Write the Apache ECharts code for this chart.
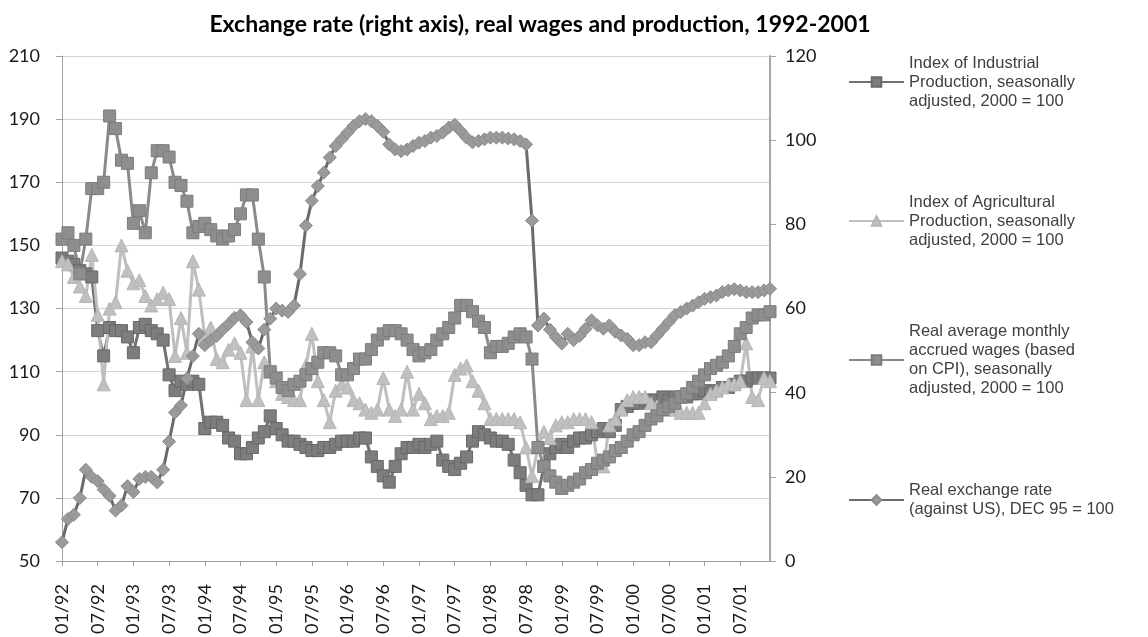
<!DOCTYPE html>
<html>
<head>
<meta charset="utf-8">
<title>Exchange rate, real wages and production</title>
<script src="https://cdn.jsdelivr.net/npm/echarts@6/dist/echarts.min.js"></script>
<style>
  html, body { margin: 0; padding: 0; background: #fff; }
  #chart { width: 1148px; height: 637px; }
</style>
</head>
<body>
<div id="chart"></div>
<script>
// monthly categories 01/92 .. 12/01
var years = ['92', '93', '94', '95', '96', '97', '98', '99', '00', '01'];
var months = ['01', '02', '03', '04', '05', '06', '07', '08', '09', '10', '11', '12'];
var categories = [];
years.forEach(function (y) {
  months.forEach(function (m) {
    categories.push(m + '/' + y);
  });
});

var leftTicks = [50, 210, 20];   // min, max, step
var rightTicks = [0, 120, 20];

// Index of Industrial Production, 2000 = 100
var industrial = [
  146, 145, 144, 142, 141, 140, 123, 115, 124, 123, 123, 121,
  116, 124, 125, 123, 122, 120, 109, 104, 107, 106, 107, 106,
  92, 94, 94, 93, 89, 88, 84, 84, 86, 89, 91, 96,
  92, 90, 88, 88, 87, 86, 85, 85, 86, 86, 87, 88,
  88, 88, 89, 89, 83, 80, 77, 75, 80, 84, 86, 86,
  87, 86, 87, 88, 82, 80, 79, 81, 83, 88, 91, 90,
  89, 88, 88, 87, 82, 78, 74, 71, 71, 80, 84, 86,
  87, 86, 88, 89, 89, 90, 91, 92, 91, 93, 98, 99,
  100, 100, 101, 101, 101, 102, 101, 102, 102, 102, 103, 103,
  104, 103, 104, 105, 105, 106, 107, 107, 108, 108, 108, 108
];

// Index of Agricultural Production, 2000 = 100
var agricultural = [
  145, 144, 140, 137, 134, 147, 128, 106, 130, 132, 150, 142,
  138, 139, 134, 131, 133, 135, 133, 115, 127, 116, 145, 136,
  121, 124, 114, 113, 117, 119, 116, 101, 118, 101, 113, 110,
  107, 103, 102, 101, 101, 112, 122, 107, 101, 94, 104, 106,
  105, 101, 100, 98, 97, 98, 108, 98, 96, 98, 110, 98,
  103, 100, 95, 96, 96, 97, 109, 111, 112, 107, 104, 100,
  95, 95, 95, 95, 95, 94, 86, 77, 86, 91, 89, 93,
  94, 94, 95, 95, 95, 94, 81, 80, 93, 95, 98, 101,
  102, 102, 102, 100, 99, 98, 98, 98, 97, 97, 97, 97,
  100, 103, 104, 105, 106, 106, 107, 119, 102, 101, 108, 107
];

// Real average monthly accrued wages (CPI based), 2000 = 100
var wages = [
  152, 154, 150, 141, 152, 168, 168, 170, 191, 187, 177, 176,
  157, 161, 154, 173, 180, 180, 178, 170, 169, 164, 154, 156,
  157, 155, 153, 152, 153, 155, 160, 166, 166, 152, 140, 110,
  108, 105, 104, 106, 107, 109, 111, 113, 116, 116, 115, 109,
  109, 111, 114, 114, 117, 120, 122, 123, 123, 122, 120, 117,
  115, 116, 117, 120, 122, 124, 127, 131, 131, 129, 126, 124,
  116, 118, 118, 119, 121, 122, 121, 114, 86, 80, 77, 75,
  73, 74, 75, 76, 78, 79, 81, 82, 83, 85, 86, 88,
  90, 91, 93, 95, 96, 98, 99, 100, 102, 103, 105, 107,
  109, 111, 112, 113, 115, 118, 122, 124, 127, 128, 128, 129
];

// Real exchange rate against US$, DEC 95 = 100 (right axis)
var exchange = [
  4.5, 10, 11, 15, 21.7, 20, 19, 17, 15.5, 12, 13.2, 17.8,
  16.4, 19.5, 20, 20, 18.7, 21.7, 28.4, 35.3, 37, 43.4, 48.7, 54,
  51.3, 52.5, 53.5, 55, 56.3, 57.8, 58.4, 56.8, 52, 50.5, 55, 57.6,
  60, 59.5, 59.2, 60.7, 68.2, 79.7, 85.6, 89.1, 92.3, 95.9, 98.6, 100.2,
  101.8, 103.4, 104.5, 105, 104.5, 103.4, 102, 99, 97.8, 97.4, 97.8, 98.6,
  99.4, 99.8, 100.6, 101, 101.8, 103, 103.7, 102.2, 100.6, 99.5, 99.8, 100.2,
  100.6, 100.6, 100.6, 100.4, 100.2, 99.8, 99, 80.9, 56, 57.6, 55, 53.2,
  51.7, 54, 52.5, 53.5, 55.2, 57.2, 56, 55.2, 56, 54.5, 53.6, 52.8,
  51.3, 51.3, 52, 52, 53.6, 55.2, 56.8, 58.4, 59.2, 60, 60.7, 61.5,
  62.3, 62.7, 63.1, 63.9, 64.3, 64.6, 64.3, 63.9, 63.9, 63.9, 64.3, 64.7
];

var names = [
  'Index of Industrial\nProduction, seasonally\nadjusted, 2000 = 100',
  'Index of Agricultural\nProduction, seasonally\nadjusted, 2000 = 100',
  'Real average monthly\naccrued wages (based\non CPI), seasonally\nadjusted, 2000 = 100',
  'Real exchange rate\n(against US), DEC 95 = 100'
];

var chart = echarts.init(document.getElementById('chart'), null, { renderer: 'canvas' });

var LH = 19;
// one legend per entry, icon lined up with the first text line
function legendFor(name, iconY) {
  var lines = name.split('\n').length;
  return {
    data: [name],
    orient: 'vertical',
    left: 848,
    top: iconY - (2 * lines - 1) * LH / 2,
    padding: 0,
    itemWidth: 55,
    itemHeight: 12,
    textStyle: {
      fontFamily: 'Liberation Sans',
      fontSize: 16.5,
      lineHeight: LH,
      color: '#404040',
      padding: [(lines - 1) * LH, 0, 0, 0]
    }
  };
}

var labelFont = { fontFamily: 'Lato', fontSize: 18, color: '#1a1a1a' };

var option = {
  animation: false,
  backgroundColor: '#fff',
  title: {
    text: 'Exchange rate (right axis), real wages and production, 1992-2001',
    left: 535,
    top: 8,
    textAlign: 'center',
    textStyle: { fontFamily: 'Lato', fontWeight: 'bold', fontSize: 23, color: '#000' }
  },
  legend: [
    legendFor(names[0], 82),
    legendFor(names[1], 221),
    legendFor(names[2], 360),
    legendFor(names[3], 500)
  ],
  grid: { left: 62, right: 378, top: 56, bottom: 74 },
  xAxis: {
    type: 'category',
    data: categories,
    boundaryGap: false,
    axisLine: { lineStyle: { color: '#a0a0a0', width: 1 } },
    axisTick: { interval: 5, length: 5, lineStyle: { color: '#a0a0a0' } },
    axisLabel: Object.assign({ interval: 5, rotate: 90, margin: 23 }, labelFont)
  },
  yAxis: [
    {
      type: 'value',
      min: leftTicks[0], max: leftTicks[1], interval: leftTicks[2],
      axisLine: { show: true, lineStyle: { color: '#a0a0a0', width: 1 } },
      axisTick: { show: true, length: 6, lineStyle: { color: '#a0a0a0' } },
      axisLabel: Object.assign({ margin: 22 }, labelFont),
      splitLine: { lineStyle: { color: '#d4d4d4', width: 1 } }
    },
    {
      type: 'value',
      min: rightTicks[0], max: rightTicks[1], interval: rightTicks[2],
      axisLine: { show: true, lineStyle: { color: '#a6a6a6', width: 2 } },
      axisTick: { show: true, length: 6, lineStyle: { color: '#a6a6a6' } },
      axisLabel: Object.assign({ margin: 15 }, labelFont),
      splitLine: { show: false }
    }
  ],
  series: [
    {
      name: names[0],
      type: 'line',
      data: industrial,
      symbol: 'rect',
      symbolSize: 12,
      showAllSymbol: true,
      lineStyle: { color: '#727272', width: 3 },
      itemStyle: { color: '#7d7d7d', borderColor: '#686868', borderWidth: 1 }
    },
    {
      name: names[1],
      type: 'line',
      data: agricultural,
      symbol: 'triangle',
      symbolSize: 13,
      showAllSymbol: true,
      lineStyle: { color: '#bfbfbf', width: 3 },
      itemStyle: { color: '#c0c0c0', borderColor: '#b5b5b5', borderWidth: 1 }
    },
    {
      name: names[2],
      type: 'line',
      data: wages,
      symbol: 'rect',
      symbolSize: 12,
      showAllSymbol: true,
      lineStyle: { color: '#8a8a8a', width: 3 },
      itemStyle: { color: '#8e8e8e', borderColor: '#7c7c7c', borderWidth: 1 }
    },
    {
      name: names[3],
      type: 'line',
      yAxisIndex: 1,
      data: exchange,
      symbol: 'diamond',
      symbolSize: 13,
      showAllSymbol: true,
      lineStyle: { color: '#6a6a6a', width: 3 },
      itemStyle: { color: '#9a9a9a', borderColor: '#8a8a8a', borderWidth: 1 }
    }
  ]
};

chart.setOption(option);
</script>
</body>
</html>
